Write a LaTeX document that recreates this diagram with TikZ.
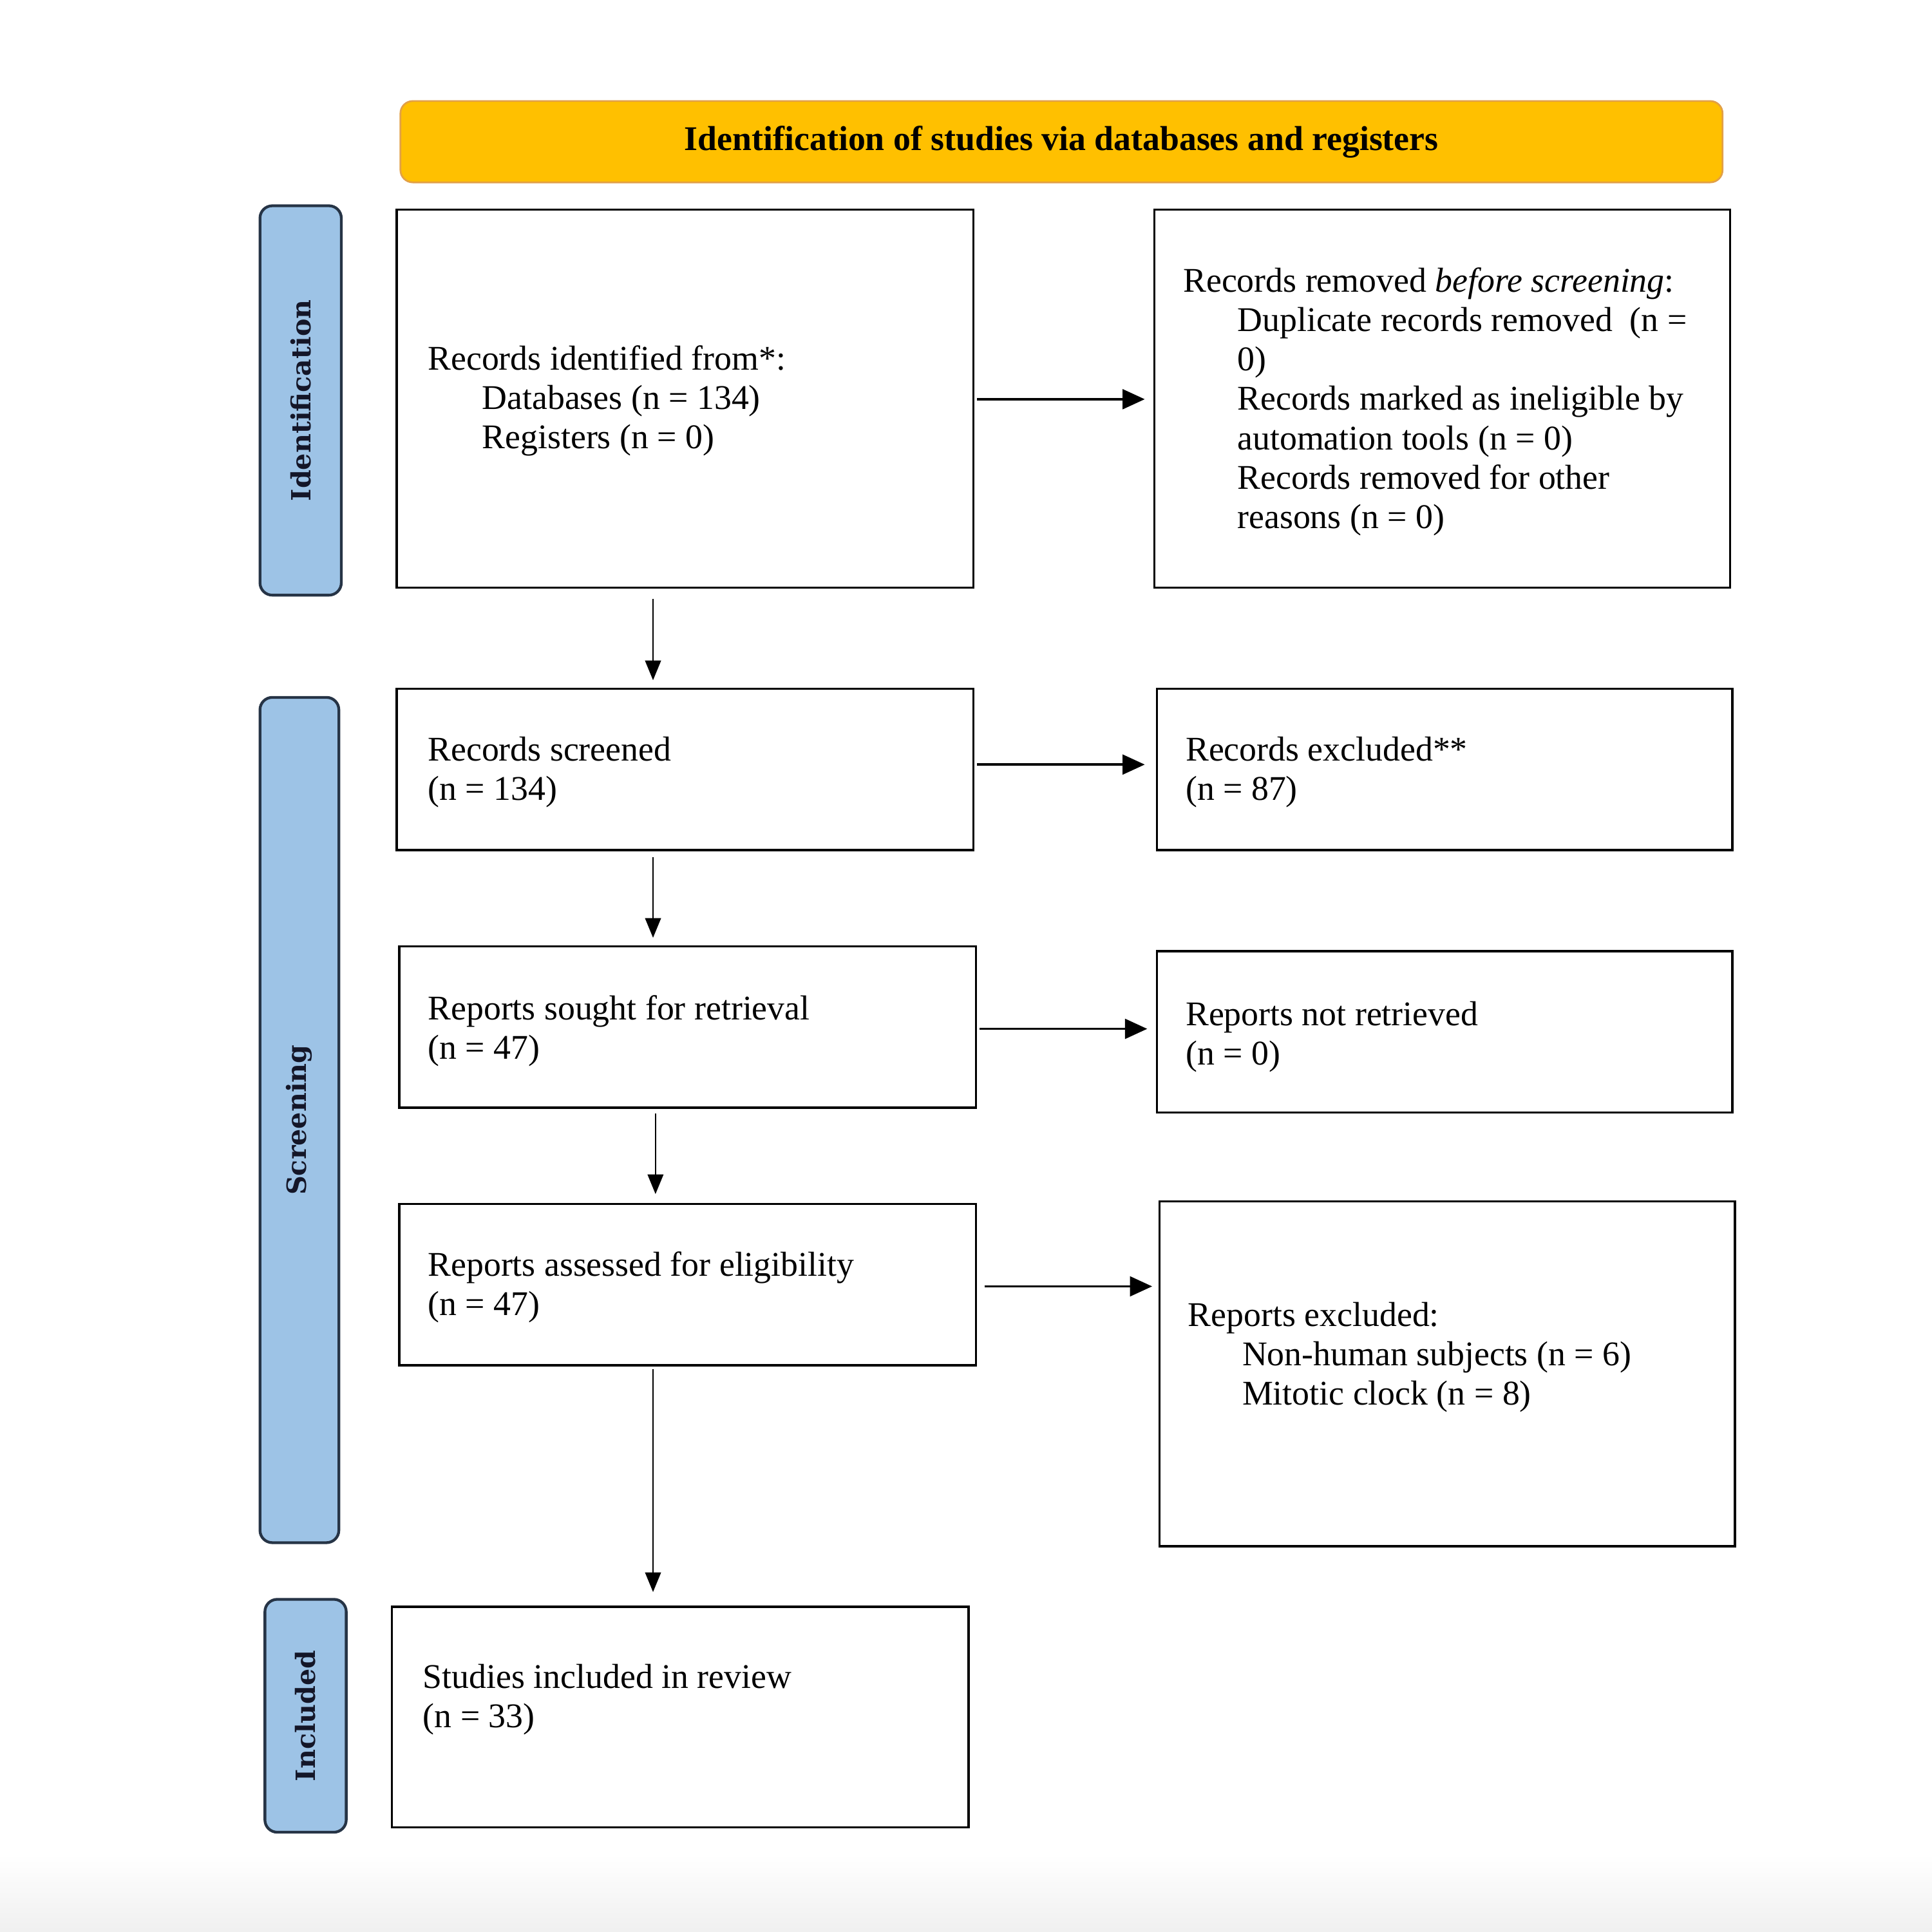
\documentclass[tikz,border=0pt]{standalone}
\usepackage{fontspec}
\setmainfont{Liberation Serif}
\newfontfamily\sidefont{DejaVu Serif}
\usetikzlibrary{arrows.meta,calc}
\definecolor{hdrfill}{RGB}{255,192,0}
\definecolor{hdrline}{RGB}{226,160,70}
\definecolor{sidefill}{RGB}{157,195,230}
\definecolor{sideline}{RGB}{38,52,70}
\definecolor{sidetext}{RGB}{20,22,40}
\begin{document}
\begin{tikzpicture}[x=0.25mm,y=-0.25mm,
  box/.style={draw=black, line width=1.3pt, fill=white, inner sep=0pt},
  txt/.style={align=left, anchor=west, inner sep=0pt, font=\fontsize{20}{22.7}\selectfont},
  sidebox/.style={draw=sideline, line width=1.6pt, fill=sidefill, rounded corners=2.5mm, rotate=90,
    text=sidetext, font=\sidefont\bfseries\fontsize{15.3}{18}\selectfont, inner sep=0pt},
  hdrbox/.style={draw=hdrline, line width=1pt, fill=hdrfill, rounded corners=2.5mm,
    font=\bfseries\fontsize{20}{22.7}\selectfont, inner sep=0pt},
  harr/.style={line width=1.4pt, -{Triangle[length=4.5mm,width=4mm]}},
  varr/.style={line width=1pt, -{Triangle[length=4mm,width=3.2mm]}}]

\useasboundingbox (0,0) rectangle (1568,1568);
\fill[white] (0,0) rectangle (1568,1568);
\shade[top color=white, bottom color=black!6] (0,1505) rectangle (1568,1568);

% header
\node[hdrbox, minimum width=268.25mm, minimum height=16.5mm] (hdr) at (861.5,115)
  {Identification of studies via databases and registers};

% side labels
\node[sidebox, minimum width=79mm, minimum height=16.5mm] (sid) at (244,325) {Identification};
\node[sidebox, minimum width=171.5mm, minimum height=16mm] (sscr) at (243,909) {Screening};
\node[sidebox, minimum width=47.25mm, minimum height=16.5mm] (sinc) at (248,1392.5) {Included};

% boxes
\node[box, minimum width=117mm, minimum height=76.75mm] (b1) at (556,323.5) {};
\node[box, minimum width=116.75mm, minimum height=76.75mm] (rem) at (1170.5,323.5) {};
\node[box, minimum width=117mm, minimum height=32.75mm] (scr) at (556,624.5) {};
\node[box, minimum width=116.75mm, minimum height=32.75mm] (exc) at (1172.5,624.5) {};
\node[box, minimum width=117mm, minimum height=32.75mm] (sou) at (558,833.5) {};
\node[box, minimum width=116.75mm, minimum height=32.75mm] (nre) at (1172.5,837.5) {};
\node[box, minimum width=117mm, minimum height=32.75mm] (ass) at (558,1042.5) {};
\node[box, minimum width=116.75mm, minimum height=70mm] (rex) at (1174.5,1115) {};
\node[box, minimum width=117mm, minimum height=44.75mm] (inc) at (552,1393.5) {};

% texts
\node[txt] (t1) at (347,325.5) {Records identified from*:\\
  \hspace*{11mm}Databases (n = 134)\\
  \hspace*{11mm}Registers (n = 0)};
\node[txt] (trem) at (960,326) {Records removed \textit{before screening}:\\
  \hspace*{11mm}Duplicate records removed\ \ (n =\\
  \hspace*{11mm}0)\\
  \hspace*{11mm}Records marked as ineligible by\\
  \hspace*{11mm}automation tools (n = 0)\\
  \hspace*{11mm}Records removed for other\\
  \hspace*{11mm}reasons (n = 0)};
\node[txt] (tscr) at (347,626.5) {Records screened\\(n = 134)};
\node[txt] (texc) at (962,626.5) {Records excluded**\\(n = 87)};
\node[txt] (tsou) at (347,836.5) {Reports sought for retrieval\\(n = 47)};
\node[txt] (tnre) at (962,841.5) {Reports not retrieved\\(n = 0)};
\node[txt] (tass) at (347,1044.5) {Reports assessed for eligibility\\(n = 47)};
\node[txt] (trex) at (964,1101.5) {Reports excluded:\\
  \hspace*{11mm}Non-human subjects (n = 6)\\
  \hspace*{11mm}Mitotic clock (n = 8)};
\node[txt] (tinc) at (343,1379.5) {Studies included in review\\(n = 33)};

% vertical arrows
\draw[varr] ($(b1.south)+(-26,8)$) -- ($(scr.north)+(-26,-6)$);
\draw[varr] ($(scr.south)+(-26,5)$) -- ($(sou.north)+(-28,-6)$);
\draw[varr] ($(sou.south)+(-26,4)$) -- ($(ass.north)+(-26,-7)$);
\draw[varr] ($(ass.south)+(-28,2)$) -- ($(inc.north)+(-22,-11)$);

% horizontal arrows
\draw[harr] ($(b1.east)+(2,0.5)$) -- ($(rem.west)+(-7,0.5)$);
\draw[harr] ($(scr.east)+(2,-4)$) -- ($(exc.west)+(-9,-4)$);
\draw[harr] ($(sou.east)+(2,1.5)$) -- ($(nre.west)+(-7,-2.5)$);
\draw[harr] ($(ass.east)+(6,1.5)$) -- ($(rex.west)+(-5,-71)$);
\end{tikzpicture}
\end{document}
